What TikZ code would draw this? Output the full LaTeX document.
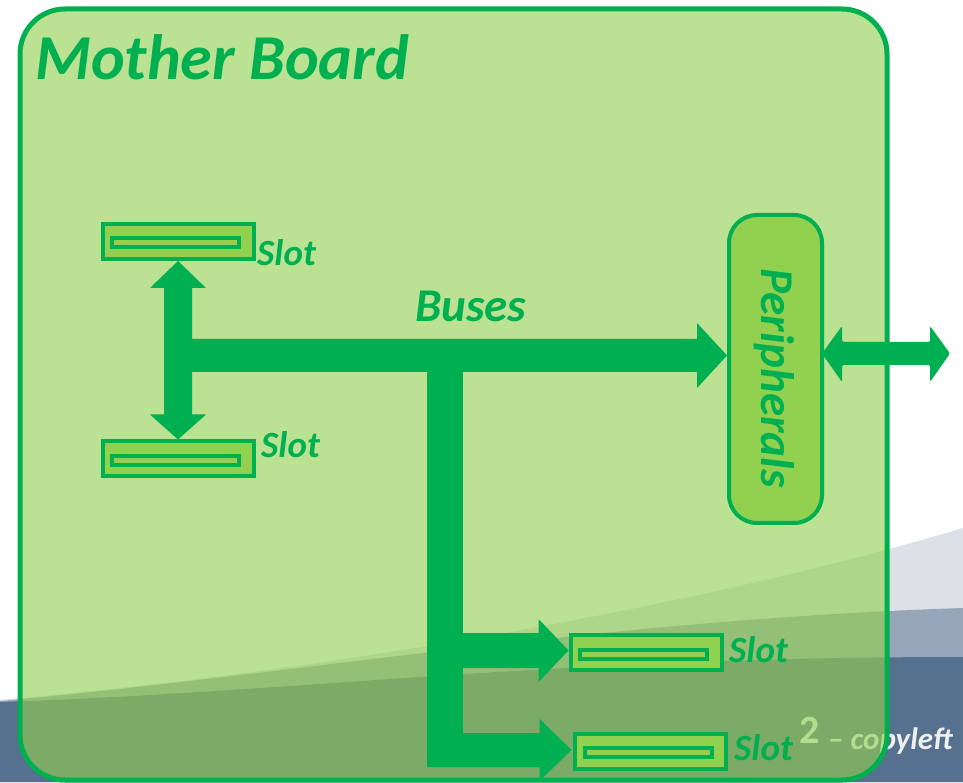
\documentclass[tikz,border=0pt]{standalone}
\usepackage{fontspec}
\setmainfont{Carlito}[Numbers=Lining]
\usetikzlibrary{calc}
\definecolor{dkgreen}{HTML}{00B050}
\definecolor{ltgreen}{HTML}{92D050}
\definecolor{bgA}{HTML}{DCE0E7}
\definecolor{bgB}{HTML}{97A5B9}
\definecolor{bgC}{HTML}{56708F}
\begin{document}
\begin{tikzpicture}[x=1pt,y=1pt,
  slotbox/.style={draw=dkgreen, fill=ltgreen, line width=4pt, minimum width=151pt, minimum height=35pt, inner sep=0pt},
  slotbar/.style={draw=dkgreen, fill=ltgreen, line width=4pt, minimum width=127pt, minimum height=9pt, inner sep=0pt},
  slotlabel/.style={text=dkgreen, font=\fontsize{37}{42}\selectfont\bfseries\itshape, inner sep=0pt, anchor=base west},
  bus/.style={fill=dkgreen},
  boardbox/.style={draw=dkgreen, fill=ltgreen, fill opacity=0.62, line width=5pt, rounded corners=45pt, minimum width=867pt, minimum height=771pt, inner sep=0pt},
  periphbox/.style={draw=dkgreen, fill=ltgreen, line width=4pt, rounded corners=28pt, minimum width=93pt, minimum height=308pt, inner sep=0pt},
  copytext/.style={text=white, text opacity=0.9, inner sep=0pt, anchor=base west}
]
\useasboundingbox (0,0) rectangle (963,782);
% slide background
\fill[white] (0,0) rectangle (963,782);
\fill[bgA] (0,0) -- (0,82) .. controls (400,118) and (750,190) .. (963,254) -- (963,0) -- cycle;
\fill[bgB] (0,0) -- (0,81) .. controls (300,108) and (600,162) .. (963,174) -- (963,0) -- cycle;
\fill[bgC] (0,0) -- (0,80) .. controls (300,90) and (550,125) .. (963,125) -- (963,0) -- cycle;
% page footer
\node[copytext, font=\fontsize{40}{44}\selectfont\bfseries] (pagenum) at (799,39) {2};
\node[copytext, font=\fontsize{31}{36}\selectfont\bfseries\itshape] (copy) at (828,33) {– copyleft};
% board
\node[boardbox] (board) at (453.5,387.5) {};
\node[text=dkgreen, font=\fontsize{64}{74}\selectfont\bfseries\itshape, inner sep=0pt, anchor=base west] (title) at (35,702) {Mother Board};
% slots
\node[slotbox] (slot1) at (178.5,540.5) {};
\node[slotbar] (bar1) at (175.5,539.5) {};
\node[slotlabel] (lab1) at (257,516) {Slot};
\node[slotbox] (slot2) at (178.5,323) {};
\node[slotbar] (bar2) at (175.5,321) {};
\node[slotlabel] (lab2) at (261,324) {Slot};
\node[slotbox] (slot3) at (646,130) {};
\node[slotbar] (bar3) at (643.5,127.5) {};
\node[slotlabel] (lab3) at (729,120) {Slot};
\node[slotbox] (slot4) at (650,31) {};
\node[slotbar] (bar4) at (648,29.5) {};
\node[slotlabel] (lab4) at (734,22) {Slot};
% peripherals
\node[periphbox] (periph) at (775.5,413) {};
\node[rotate=-90, text=dkgreen, font=\fontsize{47}{52}\selectfont\bfseries\itshape, inner sep=0pt] (periphtext) at (774,404) {Peripherals};
% buses label
\node[text=dkgreen, font=\fontsize{47}{52}\selectfont\bfseries\itshape, inner sep=0pt, anchor=base west] (buslabel) at (415,460) {Buses};
% junctions
\coordinate (j1) at (164,426.5);
\coordinate (j2) at (445,426.5);
\coordinate (ext) at (950,428.5);
% vertical double arrow between slot1 and slot2
\fill[bus] let \p1=(slot1.south), \p2=(slot2.north) in
  (164,\y1-27) -- (150,\y1-27) -- (178,\y1) -- (206,\y1-27) -- (192,\y1-27) --
  (192,\y2+25) -- (206,\y2+25) -- (178,\y2) -- (150,\y2+25) -- (164,\y2+25) -- cycle;
% main bus to peripherals
\fill[bus] let \p1=(j1), \p2=(periph.west) in
  (\x1,410) -- (\x2-30,410) -- (\x2-30,394) -- (\x2,426.5) -- (\x2-30,459) -- (\x2-30,443) -- (\x1,443) -- cycle;
% trunk down
\fill[bus] let \p1=(j2) in (\x1-18,31) rectangle (\x1+18,\y1);
% upper branch to slot3
\fill[bus] let \p1=(j2), \p2=(slot3.west) in
  (\x1,114) -- (\x2-30,114) -- (\x2-30,100) -- (\x2,131.5) -- (\x2-30,163) -- (\x2-30,149) -- (\x1,149) -- cycle;
% lower branch to slot4
\fill[bus] let \p1=(j2), \p2=(slot4.west) in
  (\x1-18,15) -- (\x2-33,15) -- (\x2-33,1) -- (\x2-1,32) -- (\x2-33,63) -- (\x2-33,49) -- (\x1-18,49) -- cycle;
% peripherals to outside
\fill[bus, rounded corners=1.5pt] let \p1=(periph.east), \p2=(ext) in
  (\x1-2,428.5) -- (\x1+18,456) -- (\x1+18,440) -- (\x2-20,440) -- (\x2-20,456) -- (\x2,428.5) --
  (\x2-20,400) -- (\x2-20,417) -- (\x1+18,417) -- (\x1+18,400) -- cycle;
\end{tikzpicture}
\end{document}
